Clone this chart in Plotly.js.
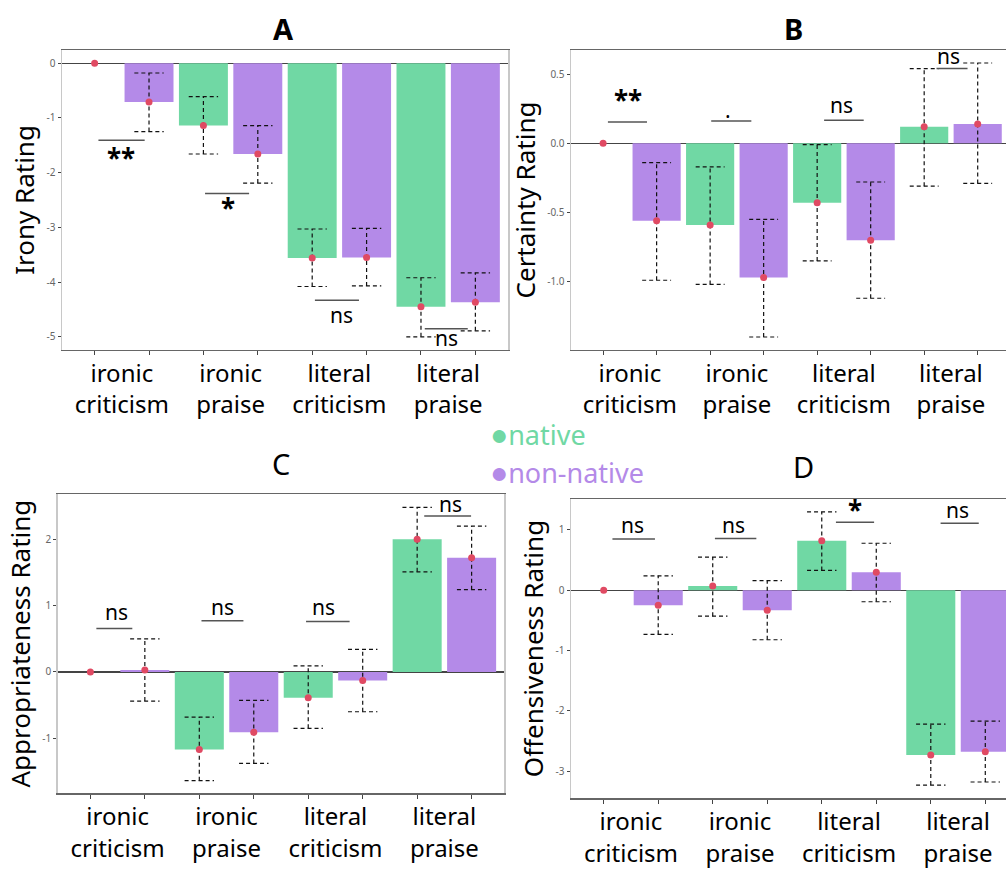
<!DOCTYPE html>
<html>
<head>
<meta charset="utf-8">
<script src="https://cdn.plot.ly/plotly-3.0.1.min.js"></script>
<style>
html,body{margin:0;padding:0;overflow:hidden;background:#fff;}
#chart{width:1020px;height:870px;}
</style>
</head>
<body>
<div id="chart"></div>
<script>
// ---------- DATA ----------
const categories = ['ironic<br>criticism', 'ironic<br>praise', 'literal<br>criticism', 'literal<br>praise'];
const groups = ['native', 'non-native'];
const panelLetters = ['A', 'B', 'C', 'D'];
const yTitles = ['Irony Rating', 'Certainty Rating', 'Appropriateness Rating', 'Offensiveness Rating'];

// A: Irony
const ironyNative = [0, -1.14, -3.56, -4.45];
const ironyNativeLo = [null, -1.66, -4.08, -5.00];
const ironyNativeHi = [null, -0.61, -3.03, -3.92];
const ironyNon = [-0.71, -1.66, -3.55, -4.37];
const ironyNonLo = [-1.25, -2.19, -4.07, -4.89];
const ironyNonHi = [-0.18, -1.14, -3.02, -3.83];

// B: Certainty
const certNative = [0, -0.59, -0.43, 0.12];
const certNativeLo = [null, -1.02, -0.85, -0.31];
const certNativeHi = [null, -0.17, -0.01, 0.54];
const certNon = [-0.56, -0.97, -0.70, 0.14];
const certNonLo = [-0.99, -1.40, -1.12, -0.29];
const certNonHi = [-0.14, -0.55, -0.28, 0.58];

// C: Appropriateness
const apprNative = [0, -1.17, -0.39, 2.00];
const apprNativeLo = [null, -1.64, -0.85, 1.51];
const apprNativeHi = [null, -0.68, 0.09, 2.48];
const apprNon = [0.03, -0.91, -0.13, 1.72];
const apprNonLo = [-0.44, -1.38, -0.60, 1.24];
const apprNonHi = [0.50, -0.43, 0.34, 2.20];

// D: Offensiveness
const offNative = [0, 0.07, 0.82, -2.73];
const offNativeLo = [null, -0.43, 0.33, -3.23];
const offNativeHi = [null, 0.55, 1.30, -2.22];
const offNon = [-0.25, -0.33, 0.30, -2.68];
const offNonLo = [-0.73, -0.82, -0.19, -3.18];
const offNonHi = [0.24, 0.16, 0.78, -2.17];

// significance brackets (x in bar-position units, y in data units)
const sigA_x0 = [1.07, 3.03, 5.05, 7.07], sigA_x1 = [1.92, 3.84, 5.86, 7.86], sigA_y = [-1.41, -2.38, -4.33, -4.85];
const sigA_text = ['**', '*', 'ns', 'ns'], sigA_tx = [1.48, 3.45, 5.53, 7.47], sigA_ty = [-1.73, -2.65, -4.60, -5.02];
const sigB_x0 = [1.09, 3.02, 5.13, 7.23], sigB_x1 = [1.82, 3.77, 5.87, 7.81], sigB_y = [0.154, 0.161, 0.166, 0.54];
const sigB_text = ['**', '.', 'ns', 'ns'], sigB_tx = [1.47, 3.33, 5.46, 7.45], sigB_ty = [0.31, 0.24, 0.28, 0.63];
const sigC_x0 = [1.11, 3.04, 4.96, 7.13], sigC_x1 = [1.77, 3.81, 5.76, 7.99], sigC_y = [0.655, 0.77, 0.76, 2.35];
const sigC_text = ['ns', 'ns', 'ns', 'ns'], sigC_tx = [1.48, 3.42, 5.28, 7.61], sigC_ty = [0.905, 0.98, 0.98, 2.53];
const sigD_x0 = [1.16, 3.04, 5.26, 7.18], sigD_x1 = [1.94, 3.80, 5.96, 7.88], sigD_y = [0.85, 0.86, 1.13, 1.11];
const sigD_text = ['ns', 'ns', '*', 'ns'], sigD_tx = [1.53, 3.39, 5.61, 7.49], sigD_ty = [1.09, 1.09, 1.33, 1.33];

const yRanges = [[-5.24, 0.24], [-1.494, 0.674], [-1.83, 2.683], [-3.45, 1.519]];
const yTickVals = [[0, -1, -2, -3, -4, -5], [0.5, 0, -0.5, -1.0], [2, 1, 0, -1], [1, 0, -1, -2, -3]];
const yTickText = [['0', '-1', '-2', '-3', '-4', '-5'], ['0.5', '0.0', '-0.5', '-1.0'], ['2', '1', '0', '-1'], ['1', '0', '-1', '-2', '-3']];

// ---------- LAYOUT HELPERS ----------
const W = 1020, H = 870;
const px = v => v / W, py = v => 1 - v / H;
// plot rectangles in pixels [left, right, top, bottom]
const rects = [[62, 508, 50, 350], [571, 1009.8, 50, 350], [57.7, 504.3, 494, 793.3], [571, 1018, 498.7, 798.3]];
const titlePos = [[283, 28, true], [793, 28, true], [281, 463, false], [803, 466, false]];

const GREEN = '#70d8a4', PURPLE = '#b48ae8', RED = '#e04a63';
const FONT = 'Noto Sans, Open Sans, sans-serif';

const panels = [
  {nat: ironyNative, natLo: ironyNativeLo, natHi: ironyNativeHi, non: ironyNon, nonLo: ironyNonLo, nonHi: ironyNonHi,
   sx0: sigA_x0, sx1: sigA_x1, sy: sigA_y, st: sigA_text, stx: sigA_tx, sty: sigA_ty},
  {nat: certNative, natLo: certNativeLo, natHi: certNativeHi, non: certNon, nonLo: certNonLo, nonHi: certNonHi,
   sx0: sigB_x0, sx1: sigB_x1, sy: sigB_y, st: sigB_text, stx: sigB_tx, sty: sigB_ty},
  {nat: apprNative, natLo: apprNativeLo, natHi: apprNativeHi, non: apprNon, nonLo: apprNonLo, nonHi: apprNonHi,
   sx0: sigC_x0, sx1: sigC_x1, sy: sigC_y, st: sigC_text, stx: sigC_tx, sty: sigC_ty},
  {nat: offNative, natLo: offNativeLo, natHi: offNativeHi, non: offNon, nonLo: offNonLo, nonHi: offNonHi,
   sx0: sigD_x0, sx1: sigD_x1, sy: sigD_y, st: sigD_text, stx: sigD_tx, sty: sigD_ty}
];

const traces = [];
const shapes = [];
const annotations = [];
const layout = {
  width: W, height: H, autosize: false,
  margin: {l: 0, r: 0, t: 0, b: 0},
  paper_bgcolor: '#fff', plot_bgcolor: '#fff',
  showlegend: false, barmode: 'overlay',
  font: {family: FONT, color: '#000'}
};

const CAP = 0.27;
panels.forEach((p, i) => {
  const n = i + 1;
  const xa = 'x' + (n === 1 ? '' : n), ya = 'y' + (n === 1 ? '' : n);
  const xk = 'xaxis' + (n === 1 ? '' : n), yk = 'yaxis' + (n === 1 ? '' : n);
  const natX = categories.map((c, k) => 2 * k + 1);
  const nonX = categories.map((c, k) => 2 * k + 2);

  traces.push({type: 'bar', x: natX, y: p.nat, width: 0.9, marker: {color: GREEN, line: {width: 0}}, name: groups[0], xaxis: xa, yaxis: ya, hoverinfo: 'skip'});
  traces.push({type: 'bar', x: nonX, y: p.non, width: 0.9, marker: {color: PURPLE, line: {width: 0}}, name: groups[1], xaxis: xa, yaxis: ya, hoverinfo: 'skip'});

  // dashed error bars built from lo/hi arrays
  const ex = [], ey = [];
  const addErr = (xs, lo, hi) => {
    xs.forEach((x, k) => {
      if (lo[k] === null || hi[k] === null) return;
      ex.push(x, x, null, x - CAP, x + CAP, null, x - CAP, x + CAP, null);
      ey.push(lo[k], hi[k], null, hi[k], hi[k], null, lo[k], lo[k], null);
    });
  };
  addErr(natX, p.natLo, p.natHi);
  addErr(nonX, p.nonLo, p.nonHi);
  traces.push({type: 'scatter', mode: 'lines', x: ex, y: ey, line: {color: '#111', width: 1.2, dash: '4px,3px'}, xaxis: xa, yaxis: ya, hoverinfo: 'skip', connectgaps: false});

  // mean points
  traces.push({type: 'scatter', mode: 'markers', x: natX.concat(nonX), y: p.nat.concat(p.non), marker: {color: RED, size: 7}, xaxis: xa, yaxis: ya, hoverinfo: 'skip'});

  const r = rects[i];
  layout[xk] = {
    domain: [px(r[0]), px(r[1])], anchor: ya, range: [0.4, 8.6],
    tickmode: 'array', tickvals: [1.5, 3.5, 5.5, 7.5], ticktext: categories,
    ticks: '', ticklabelstandoff: 2,
    tickfont: {size: 24, color: '#000', family: FONT},
    minor: {tickmode: 'array', tickvals: [1, 2, 3, 4, 5, 6, 7, 8], ticks: 'outside', ticklen: 4, tickcolor: '#444', tickwidth: 1, showgrid: false},
    showgrid: false, zeroline: false,
    showline: true, linecolor: '#666', linewidth: 1.2, mirror: true, fixedrange: true
  };
  layout[yk] = {
    domain: [py(r[3]), py(r[2])], anchor: xa, range: yRanges[i],
    tickmode: 'array', tickvals: yTickVals[i], ticktext: yTickText[i],
    ticks: 'outside', ticklen: 3, tickcolor: '#444', tickfont: {size: 10, color: '#666', family: FONT},
    showgrid: false, zeroline: true, zerolinecolor: '#444', zerolinewidth: 1.2,
    showline: true, linecolor: '#c8c8c8', linewidth: 1.5, mirror: true,
    title: {text: yTitles[i], font: {size: 26, color: '#000', family: FONT}, standoff: 4},
    fixedrange: true
  };

  // significance brackets
  p.st.forEach((t, k) => {
    shapes.push({type: 'line', xref: xa, yref: ya, x0: p.sx0[k], x1: p.sx1[k], y0: p.sy[k], y1: p.sy[k], line: {color: '#555', width: 1.5}});
    const star = t.indexOf('*') >= 0;
    annotations.push({xref: xa, yref: ya, x: p.stx[k], y: p.sty[k], text: star ? '<b>' + t + '</b>' : t, showarrow: false,
      font: {size: star ? 26 : 21, color: '#000', family: FONT}, xanchor: 'center', yanchor: 'middle'});
  });

  // panel titles
  const tp = titlePos[i];
  annotations.push({xref: 'paper', yref: 'paper', x: px(tp[0]), y: py(tp[1]), text: tp[2] ? '<b>' + panelLetters[i] + '</b>' : panelLetters[i],
    showarrow: false, font: {size: 29, color: '#000', family: FONT}, xanchor: 'center', yanchor: 'middle'});
});

// legend as coloured text, two compact boxes
[[GREEN, 433], [PURPLE, 471]].forEach((g, k) => {
  annotations.push({xref: 'paper', yref: 'paper', x: px(488), y: py(g[1]), height: 30, valign: 'middle',
    text: '<span style="font-size:30px">●</span>' + groups[k], showarrow: false, align: 'left',
    font: {size: 27, color: g[0], family: FONT}, xanchor: 'left', yanchor: 'middle'});
});

layout.shapes = shapes;
layout.annotations = annotations;

Plotly.newPlot('chart', traces, layout, {displayModeBar: false, staticPlot: true});
</script>
</body>
</html>
